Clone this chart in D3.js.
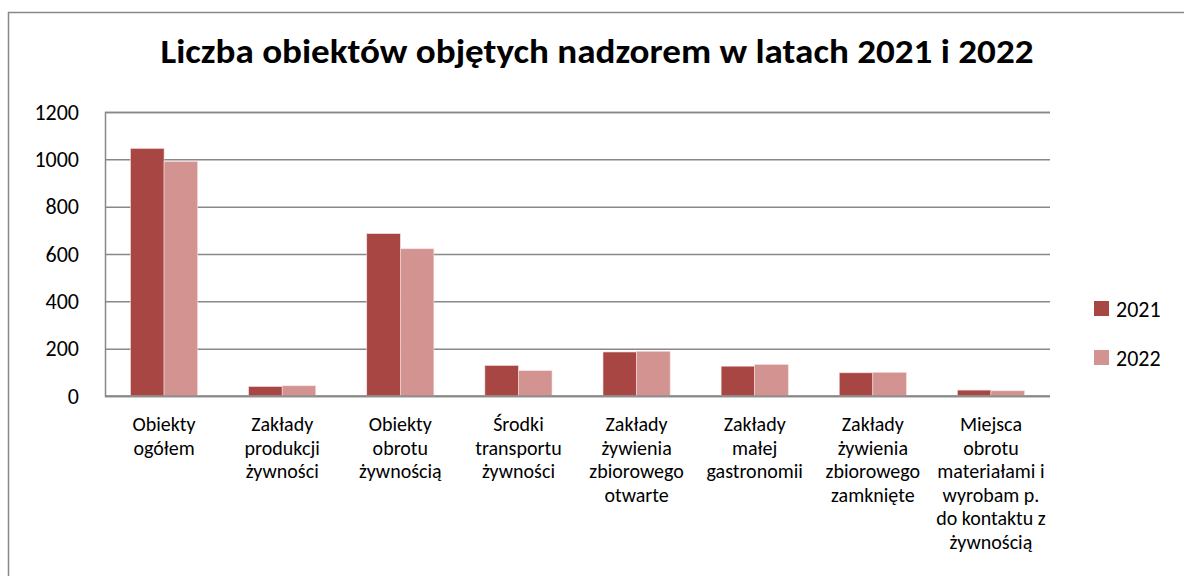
<!DOCTYPE html>
<html>
<head>
<meta charset="utf-8">
<script src="https://cdn.jsdelivr.net/npm/d3@7"></script>
<style>
  html, body { margin: 0; padding: 0; background: #fff; }
  svg { display: block; font-family: Carlito, Lato, "Open Sans", sans-serif; }
</style>
</head>
<body>
<div id="chart"></div>
<script>
const categories = [
  ["Obiekty", "ogółem"],
  ["Zakłady", "produkcji", "żywności"],
  ["Obiekty", "obrotu", "żywnością"],
  ["Środki", "transportu", "żywności"],
  ["Zakłady", "żywienia", "zbiorowego", "otwarte"],
  ["Zakłady", "małej", "gastronomii"],
  ["Zakłady", "żywienia", "zbiorowego", "zamknięte"],
  ["Miejsca", "obrotu", "materiałami i", "wyrobam p.", "do kontaktu z", "żywnością"]
];
const seriesNames = ["2021", "2022"];
const values2021 = [1046, 40, 686, 129, 186, 126, 98, 25];
const values2022 = [991, 43, 622, 107, 189, 133, 100, 22];
const yTicks = [0, 200, 400, 600, 800, 1000, 1200];
const colors = ["#a84644", "#d39391"];

const width = 1184, height = 576;
const plot = { left: 105, right: 1050, top: 112, bottom: 396 };
const fontFamily = "Carlito, Lato, 'Open Sans', sans-serif";

const svg = d3.select("#chart").append("svg")
  .attr("width", width).attr("height", height);

// outer chart border
svg.append("rect")
  .attr("x", 8.5).attr("y", 12.5)
  .attr("width", width).attr("height", height)
  .attr("fill", "none").attr("stroke", "#888").attr("stroke-width", 1.5);

svg.append("text")
  .attr("x", 597).attr("y", 63)
  .attr("text-anchor", "middle")
  .attr("font-weight", "bold")
  .attr("font-size", 34)
  .attr("textLength", 873)
  .attr("lengthAdjust", "spacingAndGlyphs")
  .text("Liczba obiektów objętych nadzorem w latach 2021 i 2022");

const idx = categories.map((_, i) => i);
const x0 = d3.scaleBand().domain(idx).range([plot.left, plot.right]).padding(0);
const x1 = d3.scaleBand().domain(seriesNames).range([0, x0.bandwidth()])
  .paddingInner(0).paddingOuter(0.76);
const y = d3.scaleLinear().domain([0, 1200]).range([plot.bottom, plot.top]);

// gridlines + y labels
const yAxis = d3.axisLeft(y).tickValues(yTicks).tickFormat(d3.format("d"))
  .tickSize(-(plot.right - plot.left)).tickPadding(26);
const gy = svg.append("g").attr("transform", `translate(${plot.left},0)`).call(yAxis);
gy.attr("font-family", fontFamily).attr("font-size", 22);
gy.select(".domain").attr("stroke", "#888").attr("stroke-width", 1.5);
gy.selectAll(".tick line").attr("stroke", "#888").attr("stroke-width", 1.5);
gy.selectAll(".tick text").attr("fill", "#000");

const data = [values2021, values2022];
const groups = svg.append("g").selectAll("g")
  .data(idx).enter().append("g")
  .attr("transform", i => `translate(${x0(i)},0)`);

groups.selectAll("rect")
  .data(i => seriesNames.map((s, k) => ({ s, k, v: data[k][i] })))
  .enter().append("rect")
  .attr("x", d => x1(d.s))
  .attr("y", d => y(d.v))
  .attr("width", x1.bandwidth())
  .attr("height", d => y(0) - y(d.v))
  .attr("fill", d => colors[d.k])
  .attr("stroke", "#f3dede").attr("stroke-width", 0.6);

// x axis line on top
svg.append("line")
  .attr("x1", plot.left).attr("x2", plot.right)
  .attr("y1", y(0)).attr("y2", y(0))
  .attr("stroke", "#888").attr("stroke-width", 1.5);

// category labels
const lab = svg.append("g").selectAll("text")
  .data(idx).enter().append("text")
  .attr("x", i => x0(i) + x0.bandwidth() / 2)
  .attr("y", 431)
  .attr("text-anchor", "middle")
  .attr("font-size", 20)
  .attr("fill", "#000");
lab.selectAll("tspan")
  .data(i => categories[i])
  .enter().append("tspan")
  .attr("x", function () { return this.parentNode.getAttribute("x"); })
  .attr("dy", (d, j) => j === 0 ? 0 : 23.5)
  .text(d => d);

// legend
const leg = svg.append("g").selectAll("g")
  .data(seriesNames).enter().append("g")
  .attr("transform", (d, k) => `translate(1094,${301 + k * 49})`);
leg.append("rect").attr("width", 15).attr("height", 15).attr("fill", (d, k) => colors[k]);
leg.append("text").attr("x", 22).attr("y", 16).attr("font-size", 22).text(d => d);
</script>
</body>
</html>
